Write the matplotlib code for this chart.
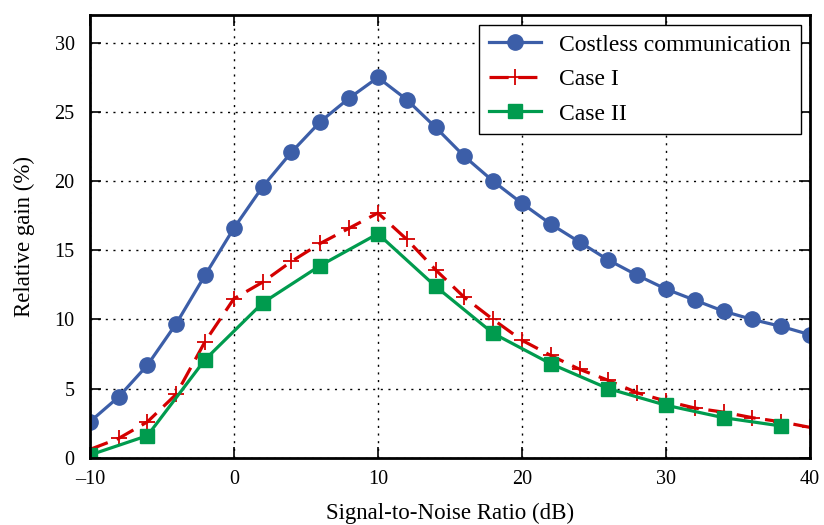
import numpy as np
import matplotlib
matplotlib.use("Agg")
import matplotlib.pyplot as plt

# SNR values (dB)
snr_all = [-10, -8, -6, -4, -2, 0, 2, 4, 6, 8, 10, 12, 14, 16, 18, 20,
           22, 24, 26, 28, 30, 32, 34, 36, 38, 40]
costless = [2.6, 4.4, 6.7, 9.7, 13.2, 16.6, 19.6, 22.1, 24.3, 26.0, 27.5,
            25.9, 23.9, 21.8, 20.0, 18.4, 16.9, 15.6, 14.3, 13.2, 12.2,
            11.4, 10.6, 10.0, 9.5, 8.9]
case1 = [0.6, 1.4, 2.6, 4.6, 8.4, 11.5, 12.7, 14.2, 15.5, 16.6, 17.7,
         15.8, 13.6, 11.6, 10.0, 8.5, 7.4, 6.4, 5.6, 4.7, 4.1, 3.6, 3.3,
         2.9, 2.6, 2.2]

snr_case2 = [-10, -6, -2, 2, 6, 10, 14, 18, 22, 26, 30, 34, 38]
case2 = [0.2, 1.6, 7.1, 11.2, 13.9, 16.2, 12.4, 9.0, 6.8, 5.0, 3.8, 2.9, 2.3]

plt.rcParams['font.family'] = ['Liberation Serif', 'DejaVu Serif']

fig = plt.figure(figsize=(8.24, 5.25), dpi=100)
ax = fig.add_axes([0.109, 0.128, 0.874, 0.843])

ax.plot(snr_all, costless, color='#3c5ea8', lw=2.3, marker='o', ms=11,
        label='Costless communication')
ax.plot(snr_all, case1, color='#d40000', lw=2.3, marker='+', ms=12, mew=1.3,
        dashes=(6, 3), label='Case I')
ax.plot(snr_case2, case2, color='#009b4e', lw=2.3, marker='s', ms=10,
        label='Case II')

ax.set_xlim(-10, 40)
ax.set_ylim(0, 32)
ax.set_xticks([-10, 0, 10, 20, 30, 40])
ax.set_yticks([0, 5, 10, 15, 20, 25, 30])
ax.set_xticklabels(['\u201310', '0', '10', '20', '30', '40'])
ax.grid(True, color='black', linestyle=(0, (1.5, 4)), linewidth=1)
ax.tick_params(direction='in', length=8, width=1.2, top=True, right=True,
               labelsize=14.5)
ax.tick_params(axis='x', pad=9)
ax.tick_params(axis='y', pad=11)
for s in ax.spines.values():
    s.set_linewidth(2)

ax.set_xlabel('Signal-to-Noise Ratio (dB)', fontsize=16.5, labelpad=10)
ax.set_ylabel('Relative gain (%)', fontsize=16.5, labelpad=14)

leg = ax.legend(loc='upper right', fontsize=17, fancybox=False,
                edgecolor='black', framealpha=1, borderaxespad=0.4,
                handlelength=2.2, labelspacing=0.55, borderpad=0.4)
leg.get_frame().set_linewidth(1)

fig.savefig('out.png', dpi=100)
